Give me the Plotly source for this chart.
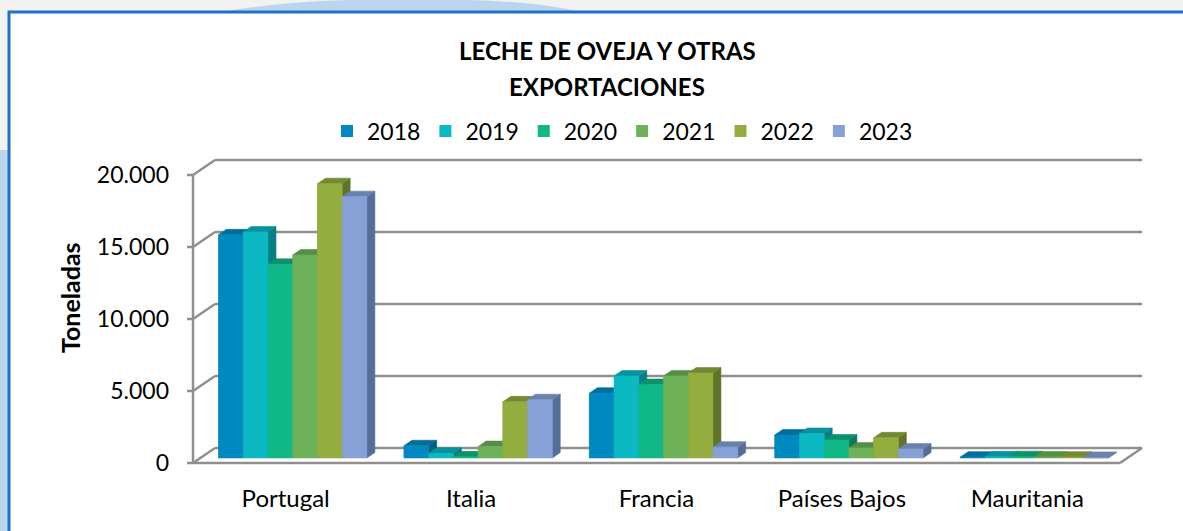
import plotly.graph_objects as go

# ---- data -------------------------------------------------------------
countries = ["Portugal", "Italia", "Francia", "Países Bajos", "Mauritania"]
years = ["2018", "2019", "2020", "2021", "2022", "2023"]

v2018 = [15500, 850, 4500, 1600, 60]
v2019 = [15700, 330, 5700, 1700, 80]
v2020 = [13450, 80, 5100, 1250, 90]
v2021 = [14100, 790, 5700, 700, 70]
v2022 = [19050, 3900, 5900, 1400, 60]
v2023 = [18150, 4050, 750, 630, 40]
series = [v2018, v2019, v2020, v2021, v2022, v2023]

y_ticks = [0, 5000, 10000, 15000, 20000]

# ---- styling ----------------------------------------------------------
front_col = ["#0089C1", "#0BB9C2", "#10B887", "#6DB258", "#94AD3F", "#87A1D6"]
top_col = ["#006E9B", "#08929A", "#0C916B", "#578E46", "#748932", "#6A81AE"]
side_col = ["#005C83", "#077D84", "#0A7B5B", "#4A7A3B", "#62742A", "#566D96"]
FONT = "Lato, Open Sans, sans-serif"
GRID = "#8f8f8f"

W, H = 1183, 531
PX_L, PX_R, PX_T, PX_B = 180, 1150, 140, 470   # plot area in pixels
AX_X, FLOOR_Y = 193, 463                        # front axis / floor line
CAT_PX = 185.4                                  # pixels per category
VAL_PX = 0.0144                                 # pixels per tonne

x_range = [-0.5 - (AX_X - PX_L) / CAT_PX, -0.5 + (PX_R - AX_X) / CAT_PX]
y_range = [-(PX_B - FLOOR_Y) / VAL_PX, (FLOOR_Y - PX_T) / VAL_PX]

# depth of the walls and of the bars (perspective offsets)
WALL_DX, WALL_DY = 22 / CAT_PX, 15 / VAL_PX
BAR_SHIFT, BAR_BASE = 7 / CAT_PX, 5 / VAL_PX
BAR_DX, BAR_DY = 8 / CAT_PX, 5.5 / VAL_PX
GROUP_W = 0.8
BAR_W = GROUP_W / len(years)


def px_x(p):
    return (p - PX_L) / (PX_R - PX_L)


def px_y(p):
    return (PX_B - p) / (PX_B - PX_T)


fig = go.Figure()

# front faces (also provide the legend entries)
for j, yr in enumerate(years):
    fig.add_trace(go.Bar(
        x=[i + BAR_SHIFT for i in range(len(countries))],
        y=series[j], base=BAR_BASE, name=yr,
        marker=dict(color=front_col[j], line=dict(width=0)),
        hoverinfo="skip",
    ))

# 3-D faces, painted left to right so nearer bars cover farther ones
for j in range(len(years)):
    side_x, side_y, top_x, top_y, fr_x, fr_y = [], [], [], [], [], []
    for i, v in enumerate(series[j]):
        l = i + BAR_SHIFT - GROUP_W / 2 + j * BAR_W
        r = l + BAR_W
        b = BAR_BASE
        t = b + v
        side_x += [r, r, r + BAR_DX, r + BAR_DX, r, None]
        side_y += [b, t, t + BAR_DY, b + BAR_DY, b, None]
        top_x += [l, r, r + BAR_DX, l + BAR_DX, l, None]
        top_y += [t, t, t + BAR_DY, t + BAR_DY, t, None]
        fr_x += [l, r, r, l, l, None]
        fr_y += [b, b, t, t, b, None]
    for xs, ys, col in ((side_x, side_y, side_col[j]),
                        (top_x, top_y, top_col[j]),
                        (fr_x, fr_y, front_col[j])):
        fig.add_trace(go.Scatter(
            x=xs, y=ys, mode="lines", fill="toself", fillcolor=col,
            line=dict(color=col, width=0.6), showlegend=False,
            hoverinfo="skip",
        ))

shapes = []
# outer frame and decorative background
shapes.append(dict(type="rect", xref="paper", yref="paper",
                   x0=px_x(0), x1=px_x(8), y0=px_y(150), y1=px_y(H + 5),
                   fillcolor="#bcd5ef", line=dict(width=0), layer="below"))
shapes.append(dict(type="path", xref="paper", yref="paper",
                   path=(f"M {px_x(220)},{px_y(12)} Q {px_x(300)},{px_y(-2)} {px_x(400)},{px_y(0)} "
                         f"L {px_x(470)},{px_y(0)} Q {px_x(540)},{px_y(2)} {px_x(580)},{px_y(12)} Z"),
                   fillcolor="#bcd5ef", line=dict(width=0), layer="below"))
shapes.append(dict(type="rect", xref="paper", yref="paper",
                   x0=px_x(9), x1=px_x(W + 60), y0=px_y(H + 40), y1=px_y(12),
                   fillcolor="white", line=dict(color="#1F70C8", width=3),
                   layer="below"))

# walls: back grid lines, side diagonals, tick marks
gl = dict(color=GRID, width=2.5)
for t in y_ticks:
    shapes.append(dict(type="line", x0=-0.5 + WALL_DX, x1=4.5 + WALL_DX,
                       y0=t + WALL_DY, y1=t + WALL_DY, line=gl, layer="below"))
    shapes.append(dict(type="line", x0=-0.5, x1=-0.5 + WALL_DX,
                       y0=t, y1=t + WALL_DY, line=gl, layer="below"))
    shapes.append(dict(type="line", x0=-0.5 - 6 / CAT_PX, x1=-0.5,
                       y0=t, y1=t, line=gl, layer="below"))
shapes.append(dict(type="line", x0=-0.5, x1=-0.5, y0=0, y1=y_ticks[-1],
                   line=gl, layer="below"))
# floor outline
shapes.append(dict(type="line", x0=-0.5, x1=4.5, y0=0, y1=0,
                   line=gl, layer="below"))
shapes.append(dict(type="line", x0=4.5, x1=4.5 + WALL_DX, y0=0, y1=WALL_DY,
                   line=gl, layer="below"))

annotations = [
    dict(text="<b>LECHE DE OVEJA Y OTRAS</b>", xref="paper", yref="paper",
         x=px_x(607), y=px_y(50), xanchor="center", yanchor="middle",
         showarrow=False, font=dict(size=24, color="black", family=FONT)),
    dict(text="<b>EXPORTACIONES</b>", xref="paper", yref="paper",
         x=px_x(607), y=px_y(87), xanchor="center", yanchor="middle",
         showarrow=False, font=dict(size=24, color="black", family=FONT)),
    dict(text="<b>Toneladas</b>", xref="paper", yref="paper",
         x=px_x(70), y=px_y(298), xanchor="center", yanchor="middle",
         showarrow=False, textangle=-90,
         font=dict(size=25, color="black", family=FONT)),
]

fig.update_layout(
    width=W, height=H,
    margin=dict(l=PX_L, r=W - PX_R, t=PX_T, b=H - PX_B, pad=0),
    paper_bgcolor="#f2f2f2", plot_bgcolor="rgba(0,0,0,0)",
    separators=",.",
    barmode="group", bargap=1 - GROUP_W, bargroupgap=0,
    font=dict(family=FONT, size=22, color="black"),
    showlegend=True,
    legend=dict(orientation="h", xanchor="left", yanchor="middle",
                x=px_x(327), y=px_y(131), bgcolor="rgba(0,0,0,0)",
                font=dict(size=23, family=FONT, color="black"),
                traceorder="normal"),
    xaxis=dict(range=x_range, tickvals=list(range(len(countries))),
               ticktext=countries, showgrid=False, zeroline=False,
               showline=False, ticks="", ticklabelstandoff=12,
               tickfont=dict(size=24, family=FONT, color="black"),
               fixedrange=True),
    yaxis=dict(range=y_range, tickvals=y_ticks, tickformat=",d",
               showgrid=False, zeroline=False, showline=False, ticks="",
               ticklabelstandoff=10,
               tickfont=dict(size=23, family=FONT, color="black"),
               fixedrange=True),
    shapes=shapes, annotations=annotations,
)

fig.write_html("out.html")
